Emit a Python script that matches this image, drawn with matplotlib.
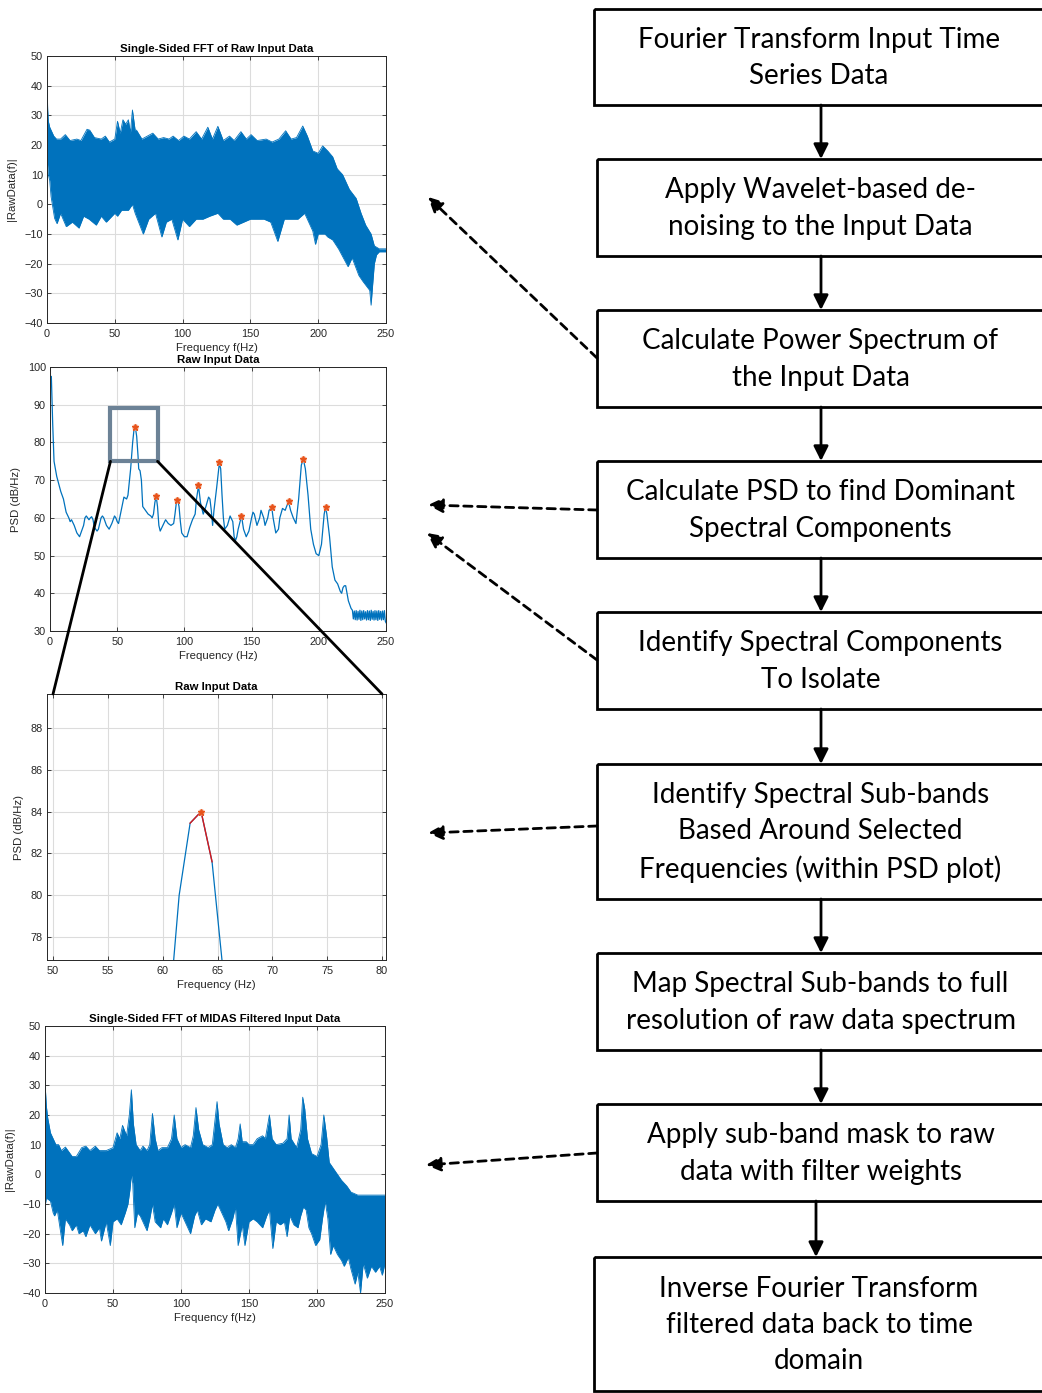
import matplotlib.pyplot as plt
import numpy as np
from matplotlib.patches import Rectangle, ConnectionPatch

# ---- data ------------------------------------------------------------------
# raw FFT (dense spectrum drawn as its upper / lower envelope)
RAW_UP_F = [0, 0.5, 1, 2, 3, 5, 7, 10, 13.5, 17, 22, 25, 29.5, 31.5, 35, 40, 43, 46,
            50, 52, 54, 56, 58, 60, 61.5, 63, 65, 66, 70, 74, 78, 82, 86, 90, 93, 97,
            101, 105, 110, 114, 118.6, 122, 126, 130, 134.6, 138, 143, 147, 150.5, 155,
            161.6, 166, 171, 176, 180, 184, 188.6, 192, 196, 200, 203.3, 207, 210.7,
            214, 218, 223, 228, 231.6, 235, 239, 241.4, 245, 250]
RAW_UP_V = [41, 32, 28, 26, 25, 23, 22, 22, 23.5, 21.5, 22, 21.5, 25.3, 25, 22.5, 22, 23, 21,
            22, 28, 24, 28.5, 27, 28.5, 24, 31.8, 25, 25, 22, 23, 24, 22, 22.5, 22, 23, 21.5,
            23, 22, 24.5, 22, 26, 22, 26.3, 21.5, 23, 21.5, 24.5, 22, 23.5, 21.5,
            22, 21, 22, 24.8, 22, 22.5, 26.4, 23, 18, 17.2, 19.7, 18, 16,
            12, 10, 5, 2, -3, -7, -10, -14, -15, -15]
RAW_LO_F = [0, 1, 2, 3, 5.6, 7.4, 10, 14.2, 18.7, 23.6, 27, 31, 36.3, 40, 43.7, 50, 52,
            55, 60, 63, 65, 71, 75, 80, 84.7, 88, 92, 96.5, 100, 105, 110, 115, 120,
            126, 130, 135, 140, 145, 150, 155, 160, 165, 170.2, 175, 180, 185, 190,
            196, 198, 200, 205, 207, 210.7, 215, 222, 225, 230, 233, 238, 239, 240,
            241.4, 243, 245, 250]
RAW_LO_V = [15.5, 10, 8, 2.6, -4.7, -6.5, -3, -7.5, -6, -8, -4, -5, -7, -4, -6, -3, -4,
            -2, -2, 0, -3, -10, -5, -3, -11, -6, -5, -12, -5, -7.5, -5, -5, -4,
            -3, -5, -5, -7, -6, -5, -5, -5, -6, -12.5, -5, -5, -5, -3,
            -9, -13.5, -10, -10, -11, -12, -15, -21, -18, -24, -26, -29, -34, -28,
            -20, -17, -16, -16]

# PSD of raw input data
PSD_F = [0, 1, 2, 3, 5, 8, 10, 12, 14, 15, 16, 18, 19, 20, 21, 22, 23, 25, 26, 27, 28,
         29, 30, 31, 32, 33, 35, 36, 38, 39, 40, 42, 44, 46, 48, 49, 50, 51, 53, 55,
         57, 58, 60, 61.5, 62.5, 63.5, 64.5, 65.5, 66, 67, 68, 69, 71, 73, 75, 76, 77,
         78, 79, 80, 81, 82, 84, 86, 88, 90, 92, 93, 94, 95, 96, 97, 98, 100, 102, 104,
         106, 108, 109, 110.5, 112, 114, 116, 118, 119, 120, 121, 122, 124, 126, 127,
         128, 129, 130, 132, 134, 136, 137, 138, 139, 140, 142.5, 144, 146, 148, 150,
         151, 152, 154, 156, 157, 159, 160, 162, 163, 165, 166, 168, 170, 171, 173,
         175, 176, 177.5, 179, 181, 183, 185, 187, 188.5, 190, 192, 194, 196, 198, 200,
         202, 204, 205, 206, 208, 210, 212, 214, 215, 216, 217, 218, 219, 220, 221,
         222, 223, 224, 225.0, 225.7, 226.4, 227.1, 227.8, 228.5, 229.2, 229.9, 230.6,
         231.3, 232.0, 232.7, 233.4, 234.1, 234.8, 235.5, 236.2, 236.9, 237.6, 238.3,
         239.0, 239.7, 240.4, 241.1, 241.8, 242.5, 243.2, 243.9, 244.6, 245.3, 246.0,
         246.7, 247.4, 248.1, 248.8, 249.5, 250.0]
PSD_V = [97.5, 97.5, 85, 75, 71, 67, 65, 61.5, 60, 59, 59.5, 58, 57, 56, 55.5, 55, 56,
         58, 60, 60.5, 60, 59.5, 60, 60.3, 59.5, 57.5, 56.5, 57, 60, 60.5, 60, 58, 57,
         58.5, 60.5, 60, 59, 58.5, 62, 65.5, 65, 66, 73, 80, 83.4, 84, 81.6, 76.4, 73,
         72.5, 70, 63, 62, 61, 60.5, 60, 61, 64, 65.7, 63, 58, 56.5, 58, 59.5, 58.5,
         58, 58.5, 61, 64, 64.8, 63, 59, 56, 55, 55, 57.5, 59.5, 61, 65, 68.5, 64, 61,
         63, 65.5, 65, 62, 58, 62, 68, 74.5, 73, 66, 60, 57, 58, 60.5, 59, 55, 54, 55,
         57, 60.5, 57, 55, 56.5, 60, 61.5, 61, 58, 60, 62, 60, 58, 60, 62, 62.8, 60, 56,
         57, 60, 62.5, 62, 63, 64.3, 62, 60, 58.5, 65, 74, 75.5, 73, 66, 57, 53, 50.5,
         50, 53, 61, 62.8, 61, 55, 47, 43.5, 42.5, 41.5, 40.5, 40, 41.5, 42, 42, 40, 38,
         37, 36, 35.5, 33.2, 35.3, 33.0, 35.4, 32.9, 35.2, 33.1, 35.5, 32.8, 35.3, 33.0,
         35.4, 33.2, 35.1, 32.9, 35.4, 33.0, 35.3, 32.8, 35.5, 33.1, 35.2, 32.9, 35.4,
         33.0, 35.3, 32.8, 35.4, 33.1, 35.2, 32.9, 35.3, 33.0, 35.4, 32.6, 32.2]
PEAK_F = [63.5, 79, 94.8, 110.4, 125.8, 142.4, 165.2, 177.6, 188.5, 205]
PEAK_V = [84.0, 65.7, 64.8, 68.6, 74.7, 60.5, 62.9, 64.4, 75.7, 62.9]

# zoomed PSD around the 63.5 Hz peak
ZOOM_F = [60.5, 61.5, 62.5, 63.5, 64.5, 65.5]
ZOOM_V = [73.8, 80.0, 83.45, 84.0, 81.6, 76.4]
BAND = slice(2, 5)
ZOOM_BOX = (45, 75, 35, 14)  # f0, dB0, width, height in the PSD plot

# MIDAS-filtered FFT envelopes
FIL_UP_F = [0, 1, 2, 4, 6, 8, 10, 12, 15, 20, 23, 27, 30, 33, 37, 40, 45, 50, 53, 55, 57,
            60, 62, 63.5, 65, 67, 70, 72, 75, 77, 79, 81, 83, 86, 90, 93, 95, 97, 100,
            103, 107, 109, 111, 113, 116, 120, 123, 126.5, 128, 131, 134, 137, 140, 142,
            143.5, 145, 148, 150, 153, 156, 160, 162, 165, 167, 170, 175, 178, 179.5,
            181, 185, 188, 189.5, 191, 193, 196, 200, 203, 205, 207, 209, 212, 215, 218,
            222, 225, 230, 240, 245, 250]
FIL_UP_V = [31, 23, 19, 14, 12, 10, 10, 8, 9.2, 6, 6, 9, 9.5, 8, 9.5, 8, 8, 9, 14, 12, 16.5,
            13, 20, 28.5, 17, 10, 8, 9.5, 8, 10, 20.5, 12, 8, 9, 9, 12, 20, 12, 9,
            10, 9, 13, 22.5, 15, 10, 9, 10, 24.5, 17, 10, 9, 10, 9, 12,
            17, 11, 11, 10, 10, 12, 13, 12, 20, 12, 10, 10.5, 12, 20,
            12, 9, 15, 26, 22, 12, 7, 6, 10, 20, 13, 4, 2, 0, -2,
            -4, -6, -7, -7, -7, -7]
FIL_LO_F = [0, 0.3, 1, 4, 6, 7, 9, 11, 13, 15, 18, 20, 23, 25, 28, 30, 33, 37, 40, 41.5,
            45, 48, 50, 53, 56, 59, 61, 62.5, 63.5, 64.5, 66, 68, 70, 72, 75, 77, 79, 81,
            85, 87, 90, 93, 95, 97, 100, 103, 107, 110, 112, 115, 118, 122, 125, 127,
            130, 133, 135, 138, 140, 142, 145, 147, 150, 153, 156, 160, 163, 165, 167.5,
            170, 173, 176, 178, 180, 183, 186, 188, 190, 192, 194, 196, 199, 202, 204,
            206, 208, 210, 212, 215, 218, 220, 223, 225, 228, 230, 232, 234, 237, 240,
            243, 246, 248, 250]
FIL_LO_V = [-40, -10, -8, -9, -13, -14, -12, -18, -24, -15, -17, -19, -17, -20, -19, -21,
            -17, -20, -18, -22.5, -16, -24, -16, -15, -17, -13, -10, -5, 0, -3, -18, -13,
            -14, -16, -19, -15, -10, -16, -18, -15, -17, -13, -10, -18, -13, -16, -20,
            -14, -12, -17, -15, -16, -12, -10, -13, -16, -19, -15, -11, -24, -17, -24,
            -16, -15, -16, -18, -14, -12, -25, -16, -17, -16, -21, -14, -17, -18, -14,
            -11, -12, -18, -20, -24, -22, -15, -9, -15, -27, -24, -27, -29, -31, -28,
            -32, -37, -33, -40, -30, -35, -31, -33, -31, -34, -30]

STEPS = [
    "Fourier Transform Input Time\nSeries Data",
    "Apply Wavelet-based de-\nnoising to the Input Data",
    "Calculate Power Spectrum of\nthe Input Data",
    "Calculate PSD to find Dominant\nSpectral Components",
    "Identify Spectral Components\nTo Isolate",
    "Identify Spectral Sub-bands\nBased Around Selected\nFrequencies (within PSD plot)",
    "Map Spectral Sub-bands to full\nresolution of raw data spectrum",
    "Apply sub-band mask to raw\ndata with filter weights",
    "Inverse Fourier Transform\nfiltered data back to time\ndomain",
]

# ---- style -----------------------------------------------------------------
BLUE = "#0072BD"
ORANGE = "#E8541C"
AX_COL = "#262626"
W, H = 1042, 1393

plt.rcParams.update({
    "font.family": "Liberation Sans",
    "font.size": 7.8,
    "axes.edgecolor": AX_COL,
    "axes.linewidth": 0.7,
    "xtick.color": AX_COL,
    "ytick.color": AX_COL,
    "xtick.direction": "in",
    "ytick.direction": "in",
    "xtick.top": True,
    "ytick.right": True,
    "xtick.major.size": 3,
    "ytick.major.size": 3,
    "xtick.major.width": 0.6,
    "ytick.major.width": 0.6,
    "xtick.major.pad": 4,
    "ytick.major.pad": 3,
    "axes.grid": True,
    "grid.color": "#dcdcdc",
    "grid.linewidth": 0.8,
})


def px_axes(fig, left, top, right, bottom):
    return fig.add_axes([left / W, 1 - bottom / H, (right - left) / W, (bottom - top) / H])


def style(ax, title, xlabel, ylabel):
    ax.set_title(title, fontsize=8.2, fontweight="bold", pad=3)
    ax.set_xlabel(xlabel, fontsize=8.2, color=AX_COL, labelpad=3)
    ax.set_ylabel(ylabel, fontsize=8.2, color=AX_COL, labelpad=5)
    ax.set_axisbelow(True)


def band(ax, up_f, up_v, lo_f, lo_v):
    grid = np.union1d(up_f, lo_f)
    up = np.interp(grid, up_f, up_v)
    lo = np.interp(grid, lo_f, lo_v)
    ax.fill_between(grid, lo, up, color=BLUE, lw=0)
    ax.plot(up_f, up_v, color=BLUE, lw=0.6)
    ax.plot(lo_f, lo_v, color=BLUE, lw=0.6)


fig = plt.figure(figsize=(W / 100, H / 100), dpi=100)

# raw FFT
ax1 = px_axes(fig, 47, 56, 386, 323)
band(ax1, RAW_UP_F, RAW_UP_V, RAW_LO_F, RAW_LO_V)
ax1.set_xlim(0, 250)
ax1.set_ylim(-40, 50)
ax1.set_xticks(np.arange(0, 251, 50))
ax1.set_yticks(np.arange(-40, 51, 10))
style(ax1, "Single-Sided FFT of Raw Input Data", "Frequency f(Hz)", "|RawData(f)|")

# PSD
ax2 = px_axes(fig, 50, 367, 386, 631)
ax2.plot(PSD_F, PSD_V, color=BLUE, lw=0.9)
ax2.plot(PEAK_F, PEAK_V, "o", ms=5, color="#F6B89C", alpha=0.7, mec="none")
ax2.plot(PEAK_F, PEAK_V, "*", ms=4.5, color=ORANGE, mec=ORANGE)
ax2.add_patch(Rectangle(ZOOM_BOX[:2], ZOOM_BOX[2], ZOOM_BOX[3], fill=False,
                        ec="#6C8296", lw=3, zorder=5, clip_on=False))
ax2.set_xlim(0, 250)
ax2.set_ylim(30, 100)
ax2.set_xticks(np.arange(0, 251, 50))
ax2.set_yticks(np.arange(30, 101, 10))
style(ax2, "Raw Input Data", "Frequency (Hz)", "PSD (dB/Hz)")

# zoomed PSD
ax3 = px_axes(fig, 47, 694, 386, 960)
ax3.plot(ZOOM_F, ZOOM_V, color=BLUE, lw=0.9)
ax3.plot(ZOOM_F[BAND], ZOOM_V[BAND], color="#D7191C", lw=1.0)
ax3.plot(ZOOM_F[3], ZOOM_V[3], "o", ms=5, color="#F6B89C", alpha=0.7, mec="none")
ax3.plot(ZOOM_F[3], ZOOM_V[3], "*", ms=4.5, color=ORANGE, mec=ORANGE)
ax3.set_xlim(49.45, 80.36)
ax3.set_ylim(76.9, 89.63)
ax3.set_xticks(np.arange(50, 81, 5))
ax3.set_yticks(np.arange(78, 89, 2))
style(ax3, "Raw Input Data", "Frequency (Hz)", "PSD (dB/Hz)")

# connector lines from the zoom box to the zoomed axes
for fx in (ZOOM_BOX[0], ZOOM_BOX[0] + ZOOM_BOX[2]):
    xb = max(fx, 50)
    con = ConnectionPatch(xyA=(fx, ZOOM_BOX[1]), coordsA=ax2.transData,
                          xyB=(xb, ax3.get_ylim()[1]), coordsB=ax3.transData,
                          color="black", lw=2, zorder=10)
    fig.add_artist(con)

# filtered FFT
ax4 = px_axes(fig, 45, 1026, 385, 1293)
band(ax4, FIL_UP_F, FIL_UP_V, FIL_LO_F, FIL_LO_V)
ax4.set_xlim(0, 250)
ax4.set_ylim(-40, 50)
ax4.set_xticks(np.arange(0, 251, 50))
ax4.set_yticks(np.arange(-40, 51, 10))
style(ax4, "Single-Sided FFT of MIDAS Filtered Input Data", "Frequency f(Hz)", "|RawData(f)|")

# ---- flowchart overlay (pixel coordinates) ---------------------------------
fc = fig.add_axes([0, 0, 1, 1], zorder=20)
fc.set_xlim(0, W)
fc.set_ylim(H, 0)
fc.axis("off")
fc.patch.set_visible(False)

boxes = [(594, 9, 105), (597, 159, 256), (597, 310, 407), (597, 461, 558),
         (597, 612, 709), (597, 764, 899), (597, 953, 1050), (597, 1104, 1201),
         (594, 1257, 1391)]
for (left, top, bottom), label in zip(boxes, STEPS):
    fc.add_patch(Rectangle((left, top), W + 20 - left, bottom - top, fill=False,
                           ec="black", lw=2, clip_on=False))
    fc.text((left + W) / 2 + 1, (top + bottom) / 2 + 1, label, ha="center", va="center",
            fontsize=20, family="Lato", linespacing=1.48)

for i in range(len(boxes) - 1):
    x = 816 if i == len(boxes) - 2 else 821
    fc.annotate("", xy=(x, boxes[i + 1][1]), xytext=(x, boxes[i][2]),
                arrowprops=dict(arrowstyle="-|>", color="black", lw=2,
                                mutation_scale=22, shrinkA=0, shrinkB=0))

links = [((597, 358), (428, 197)), ((597, 510), (428, 505)), ((597, 660), (427, 533)),
         ((597, 826), (428, 833)), ((597, 1153), (426, 1165))]
for start, end in links:
    fc.annotate("", xy=end, xytext=start,
                arrowprops=dict(arrowstyle="-|>", color="black", lw=2, ls=(0, (3, 2)),
                                mutation_scale=22, shrinkA=0, shrinkB=0))

fig.savefig("out.png", dpi=100, facecolor="white")
